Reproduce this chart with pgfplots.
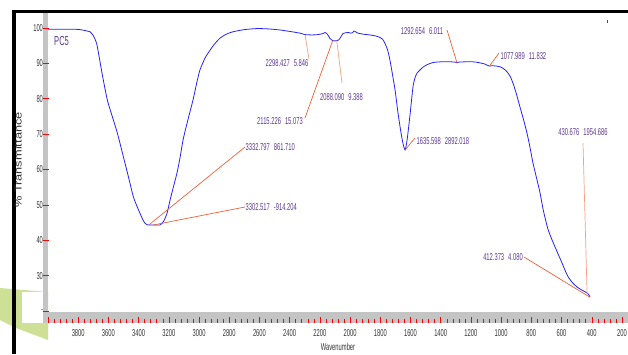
\documentclass[border=0pt]{standalone}
\usepackage{fontspec}
\setmainfont{Liberation Sans}[FakeStretch=0.58]
\newfontfamily\ylabfont{Liberation Sans}[FakeStretch=1.28]
\usepackage{pgfplots}
\usepackage{pgfplotstable}
\pgfplotsset{compat=1.18}
\definecolor{specblue}{RGB}{35,35,245}
\definecolor{pkline}{RGB}{240,95,55}
\definecolor{pksoft}{RGB}{245,160,130}
\definecolor{pktext}{RGB}{90,55,145}
\definecolor{axgrey}{RGB}{196,196,196}
\definecolor{leaf}{RGB}{205,224,150}
\tikzset{pklab/.style={font=\fontsize{10}{12}\selectfont, text=pktext, inner sep=0.5pt}}

\pgfplotstableread{
wn T
4000 99.6
3900 99.6
3820 99.6
3788 99.5
3760 99.3
3740 99.1
3722 98.9
3700 97.8
3678 95.6
3660 91.5
3638 86.2
3607 79.6
3574 74.9
3541 70.3
3501 63.6
3468 58.0
3435 52.3
3410 49.5
3391 47.6
3372 45.8
3358 44.8
3345 44.4
3333 44.3
3303 44.3
3280 44.3
3258 44.3
3235 45.3
3212 47.6
3192 51.3
3170 55.0
3146 59.0
3125 63.5
3106 68.3
3075 73.8
3040 79.6
3015 84.5
2994 88.1
2960 91.5
2927 93.7
2900 95.3
2861 97.1
2820 98.2
2775 98.9
2700 99.5
2616 99.8
2540 99.7
2464 99.4
2400 99.0
2331 98.5
2298 98.1
2250 98.0
2212 98.1
2180 98.4
2166 98.7
2150 98.2
2133 97.0
2115 96.4
2100 96.3
2088 96.4
2075 96.6
2060 97.5
2047 98.4
2030 98.6
2014 98.7
1995 98.5
1985 98.6
1974 99.1
1960 98.8
1947 98.5
1910 98.2
1868 98.0
1830 97.7
1802 97.3
1785 96.8
1769 95.6
1752 93.8
1736 90.9
1720 87.0
1702 82.4
1686 77.0
1669 72.0
1652 67.8
1636 65.5
1622 68.5
1603 75.5
1583 83.5
1567 86.3
1557 87.2
1537 88.1
1517 88.9
1490 89.6
1451 90.2
1400 90.4
1330 90.4
1300 90.3
1292 90.1
1284 90.3
1240 90.4
1186 90.4
1150 90.2
1110 89.8
1090 89.4
1078 89.2
1060 89.3
1030 89.2
1007 89.0
985 88.5
961 87.6
940 86.3
921 84.3
900 81.5
875 77.6
850 73.8
829 70.3
810 66.5
789 61.8
765 57.5
742 53.3
723 48.9
705 45.6
689 43.0
665 40.3
643 38.1
620 35.8
597 33.6
577 31.5
557 29.7
530 28.1
498 26.8
465 25.9
431 25.1
420 24.6
411 23.9
}\spectrum

\begin{document}
\begin{tikzpicture}[x=1pt,y=1pt]
\path[use as bounding box] (0,0) rectangle (628,354);
% page furniture: leaf mark, frame and the grey axis bars
\fill[leaf] (0,66) -- (48,62) -- (48,14) -- (16,26) -- (0,34) -- cycle;
\fill[white] (22,31) rectangle (43,62);
\fill[black] (12,0) rectangle (16,344);
\fill[black] (12,341) rectangle (628,344);
\fill[axgrey] (43,31) rectangle (48,341);
\fill[axgrey] (43,31) rectangle (628,42);
\draw[red, line width=0.6pt] (607,331) -- (607,334);

\begin{axis}[
  at={(48pt,31pt)}, anchor=south west, scale only axis,
  width=580pt, height=310pt,
  x dir=reverse, xmin=160, xmax=4000, ymin=16.6, ymax=104.2,
  axis x line*=bottom, axis y line*=left, axis line style={draw=none},
  clip=false,
  tick align=inside, major tick length=6pt, minor tick length=4pt,
  xtick={200,400,...,3800}, extra x ticks={4000}, extra x tick labels={},
  minor xtick={160,200,...,4000},
  ytick={20,30,...,100},
  yticklabels={\textcolor{red}{-},30,40,50,60,70,80,90,100},
  every tick/.style={red, line width=0.5pt},
  y tick style={xshift=-5pt},
  tick label style={font=\fontsize{10}{12}\selectfont, text=black!80},
  xticklabel style={anchor=center, yshift=-10pt},
  yticklabel style={anchor=east, xshift=-1.5pt},
  /pgf/number format/assume math mode=true,
  /pgf/number format/set thousands separator={},
  xlabel={Wavenumber}, ylabel={\ylabfont\% Transmittance},
  label style={font=\fontsize{10}{12}\selectfont, text=black!80},
  xlabel style={at={(axis description cs:0.5,-0.0774)}, anchor=center},
  ylabel style={at={(axis cs:4198.6,62.66)}, anchor=center},
]
\addplot[specblue, line width=0.8pt, smooth, tension=0.4] table[x=wn, y=T] {\spectrum};

\node[font=\fontsize{13}{15}\selectfont, text=pktext, anchor=west, inner sep=0pt] at (axis cs:3960,96.3) {PC5};

% peak annotations
\draw[pkline, line width=0.7pt] (axis cs:3332.8,44.3) -- (axis cs:2695.7,66.33);
\node[pklab, anchor=west] at (axis cs:2695.7,66.33) {3332.797\hspace{4pt}861.710};
\draw[pkline, line width=0.7pt] (axis cs:3302.5,44.3) -- (axis cs:2695.7,49.38);
\node[pklab, anchor=west] at (axis cs:2695.7,49.38) {3302.517\hspace{4pt}-914.204};

\draw[pksoft, line width=0.7pt] (axis cs:2298.4,98.1) -- (axis cs:2272.0,91.2);
\node[pklab] at (axis cs:2417.7,90.07) {2298.427\hspace{4pt}5.846};
\draw[pksoft, line width=0.7pt] (axis cs:2088.1,96.4) -- (axis cs:2053.5,84.42);
\node[pklab] at (axis cs:2056.8,80.46) {2088.090\hspace{4pt}9.388};
\draw[pkline, line width=0.7pt] (axis cs:2115.2,96.4) -- (axis cs:2298.5,74.53);
\node[pklab] at (axis cs:2464.0,73.68) {2115.226\hspace{4pt}15.073};

\draw[pkline, line width=0.7pt] (axis cs:1635.6,65.5) -- (axis cs:1570.2,68.88);
\node[pklab, anchor=west] at (axis cs:1563.6,68.03) {1635.598\hspace{4pt}2892.018};
\draw[pkline, line width=0.7pt] (axis cs:1292.65,90.2) -- (axis cs:1358.3,99.4);
\node[pklab] at (axis cs:1523.9,99.11) {1292.654\hspace{4pt}6.011};
\draw[pkline, line width=0.7pt] (axis cs:1078.0,89.2) -- (axis cs:1014.1,92.9);
\node[pklab, anchor=west] at (axis cs:1007.4,92.05) {1077.989\hspace{4pt}11.832};

\draw[pksoft, line width=0.7pt] (axis cs:430.7,24.6) -- (axis cs:457.9,67.46);
\node[pklab] at (axis cs:457.9,70.57) {430.676\hspace{4pt}1954.686};
\draw[pkline, line width=0.7pt] (axis cs:412.4,23.9) -- (axis cs:848.5,35.25);
\node[pklab] at (axis cs:987.6,35.25) {412.373\hspace{4pt}4.080};
\end{axis}
\end{tikzpicture}
\end{document}
